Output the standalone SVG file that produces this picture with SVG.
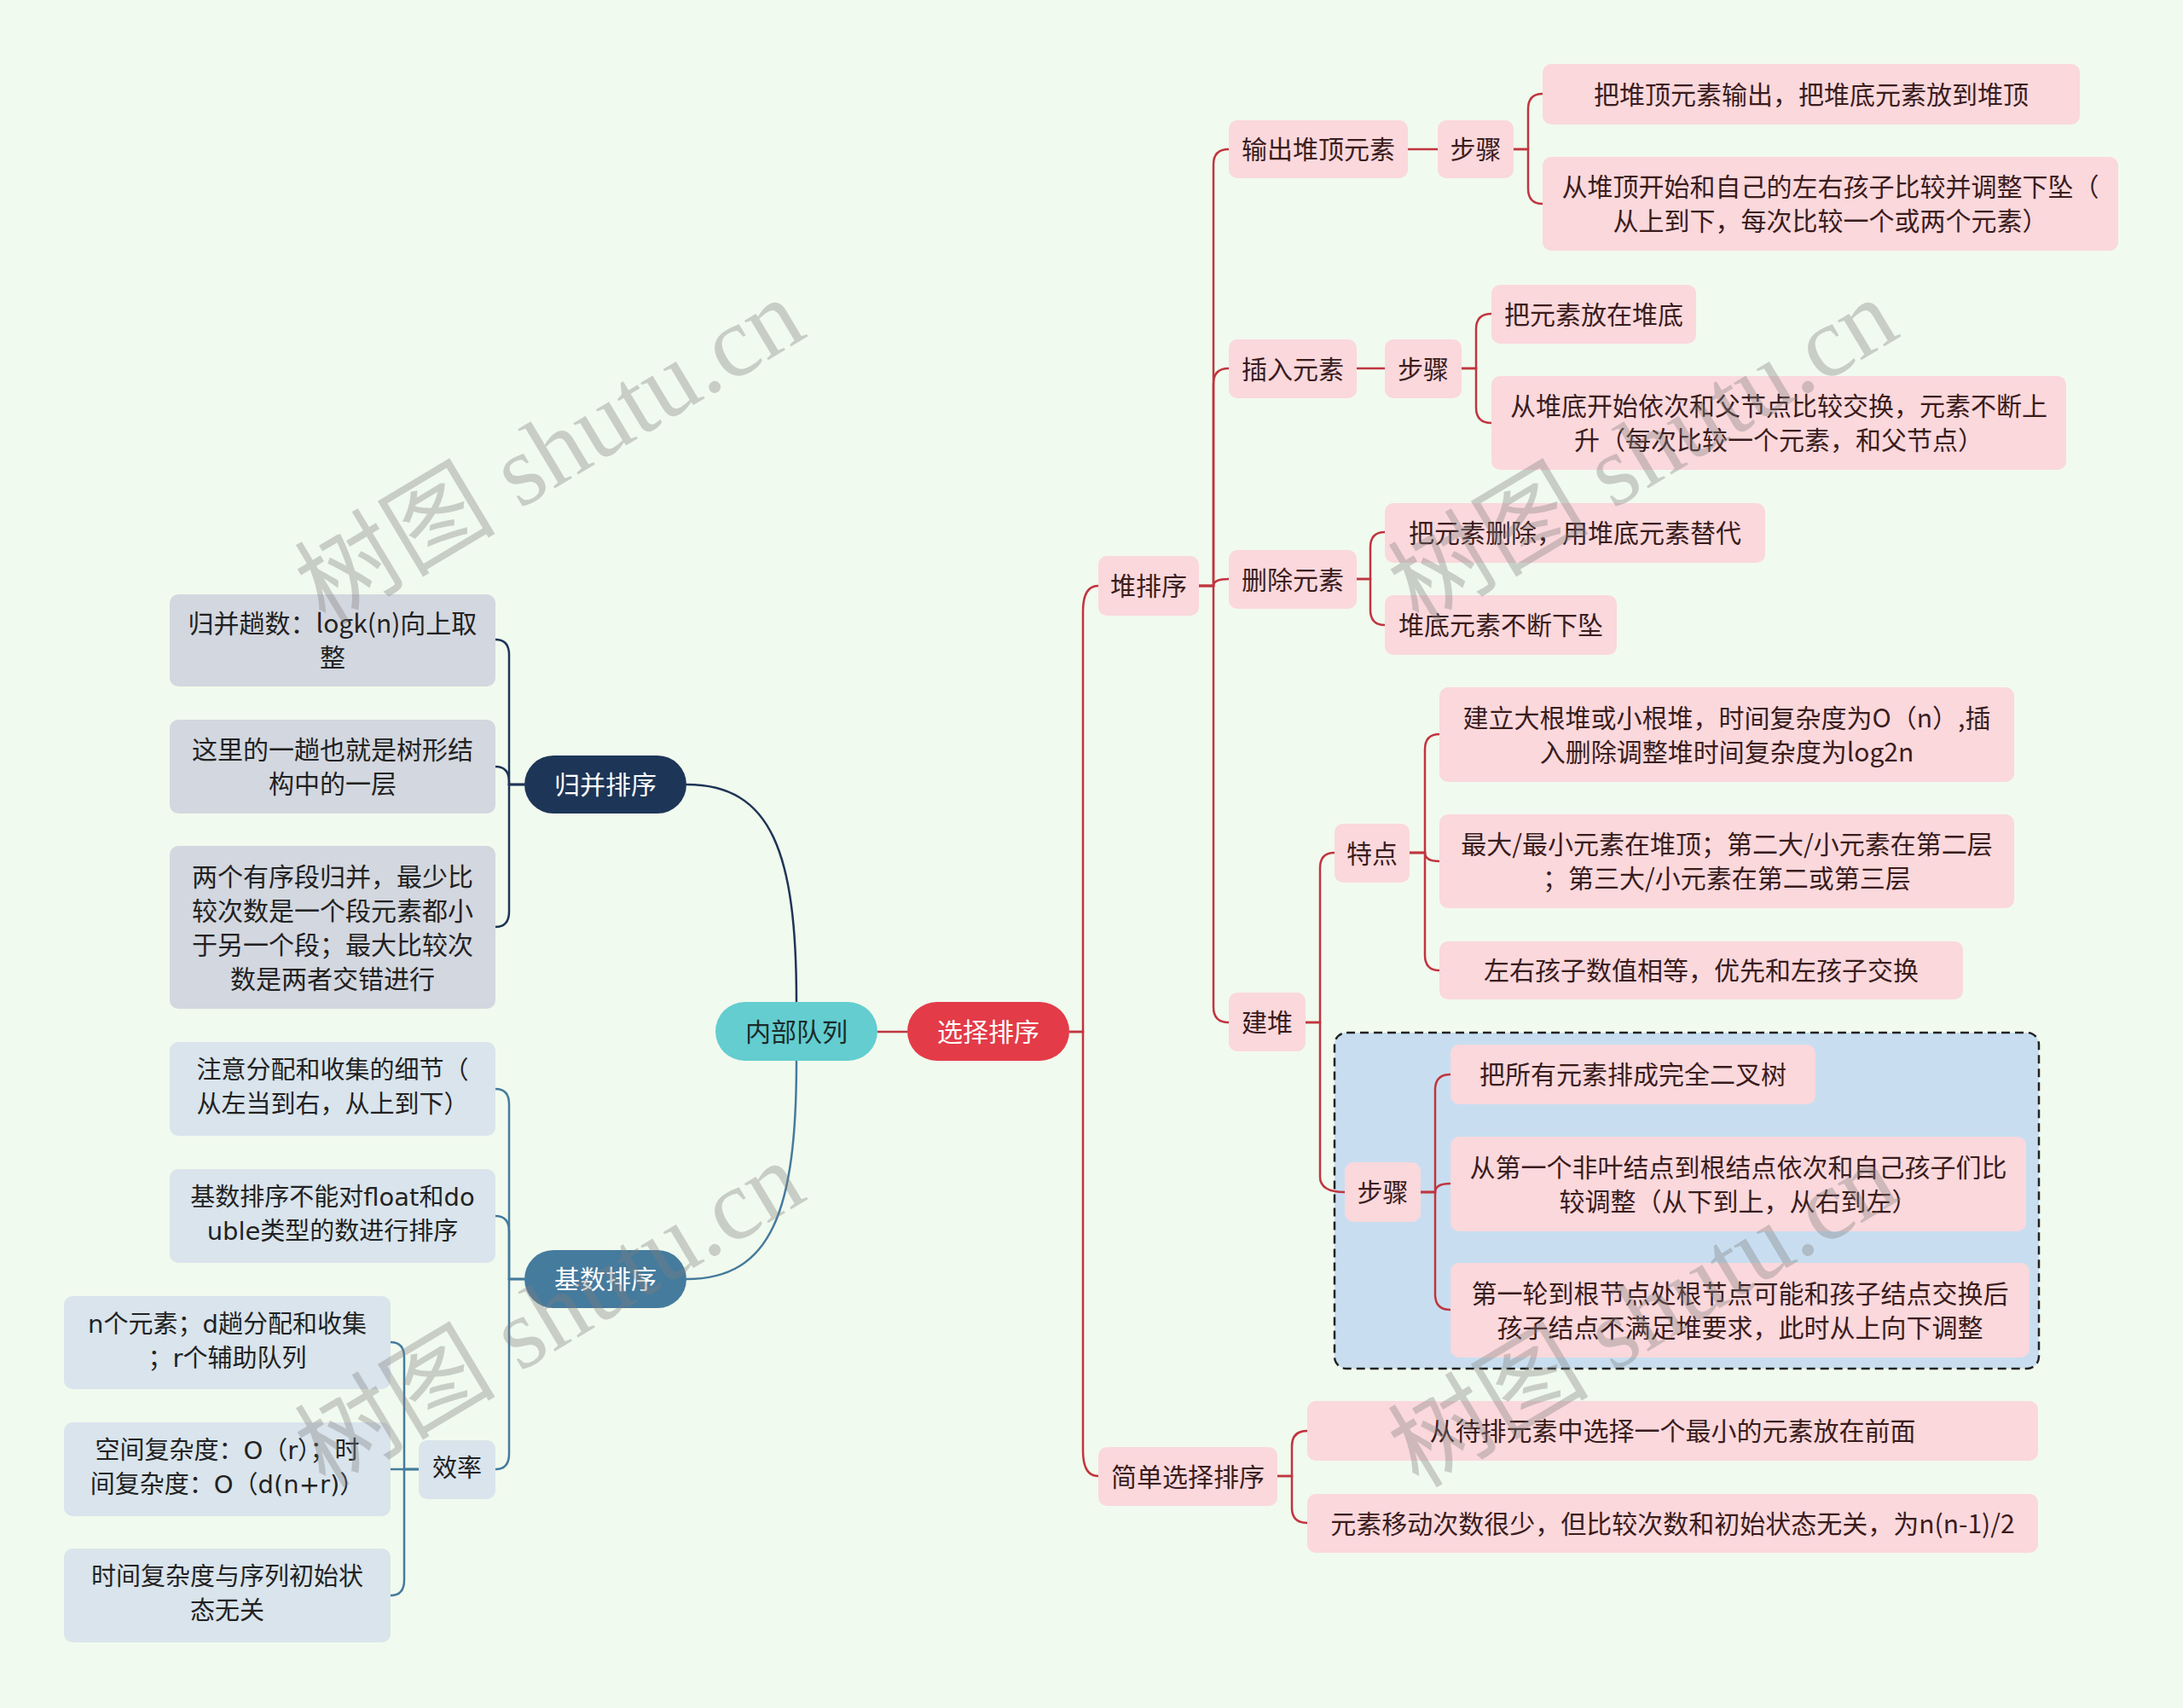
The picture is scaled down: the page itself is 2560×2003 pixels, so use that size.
<svg xmlns="http://www.w3.org/2000/svg" width="2560" height="2003" viewBox="0 0 2560 2003">
<style>
text{font-family:"Noto Sans CJK SC","Liberation Sans",sans-serif;font-size:30px;text-anchor:middle;dominant-baseline:central}
.pk rect{fill:#fad8dc}
.pk text{fill:#3a1c1c}
.gy rect{fill:#d3d7df}
.gy text{fill:#222}
.bl rect{fill:#d9e4ec}
.bl text{fill:#222;font-family:"DejaVu Sans","Noto Sans CJK SC",sans-serif;font-size:29px}
.wt text{fill:#fff}
.cr{fill:none;stroke:#c0353f;stroke-width:2.5}
.cn{fill:none;stroke:#1d3557;stroke-width:2.5}
.cb{fill:none;stroke:#457b9d;stroke-width:2.5}
.wm{font-family:"Liberation Serif","Noto Sans CJK SC",serif;font-size:118px;fill:#808080;fill-opacity:.36}
</style>
<rect width="2560" height="2003" fill="#f1faee"/>
<rect x="1565" y="1211" width="826" height="394" rx="14" fill="#c8def0" stroke="#222" stroke-width="2.5" stroke-dasharray="10 6"/>
<g id="connectors">
<path class="cr" d="M1029 1210H1064"/>
<path class="cr" d="M1254 1210H1270V717Q1270 687 1288 687"/>
<path class="cr" d="M1254 1210H1270V1701Q1270 1731 1288 1731"/>
<path class="cr" d="M1406 687H1423V193Q1423 175 1441 175"/>
<path class="cr" d="M1406 687H1423V450Q1423 432 1441 432"/>
<path class="cr" d="M1406 687H1423Q1423 679 1441 679"/>
<path class="cr" d="M1406 687H1423V1181Q1423 1199 1441 1199"/>
<path class="cr" d="M1651 175H1686"/>
<path class="cr" d="M1775 175H1792V128Q1792 110 1809 110"/>
<path class="cr" d="M1775 175H1792V221Q1792 239 1809 239"/>
<path class="cr" d="M1591 432H1624"/>
<path class="cr" d="M1714 432H1731V386Q1731 368 1749 368"/>
<path class="cr" d="M1714 432H1731V478Q1731 496 1749 496"/>
<path class="cr" d="M1591 679H1607V642Q1607 624 1624 624"/>
<path class="cr" d="M1591 679H1607V715Q1607 733 1624 733"/>
<path class="cr" d="M1531 1199H1548V1018Q1548 1000 1565 1000"/>
<path class="cr" d="M1531 1199H1548V1380Q1548 1398 1577 1398"/>
<path class="cr" d="M1653 1000H1671V879Q1671 861 1688 861"/>
<path class="cr" d="M1653 1000H1671Q1671 1010 1688 1010"/>
<path class="cr" d="M1653 1000H1671V1120Q1671 1138 1688 1138"/>
<path class="cr" d="M1666 1398H1683V1278Q1683 1260 1701 1260"/>
<path class="cr" d="M1666 1398H1683Q1683 1388 1701 1388"/>
<path class="cr" d="M1666 1398H1683V1518Q1683 1536 1701 1536"/>
<path class="cr" d="M1498 1731H1515V1696Q1515 1678 1533 1678"/>
<path class="cr" d="M1498 1731H1515V1768Q1515 1786 1533 1786"/>
<path class="cn" d="M934 1175C934 1000 905 920 805 920"/>
<path class="cb" d="M934 1244C934 1420 905 1500 805 1500"/>
<path class="cn" d="M615 920H597V768Q597 750 581 750"/>
<path class="cn" d="M615 920H597V917Q597 899 581 899"/>
<path class="cn" d="M615 920H597V1069Q597 1087 581 1087"/>
<path class="cb" d="M615 1500H597V1295Q597 1277 581 1277"/>
<path class="cb" d="M615 1500H597V1444Q597 1426 581 1426"/>
<path class="cb" d="M615 1500H597V1705Q597 1723 581 1723"/>
<path class="cb" d="M491 1723H474V1592Q474 1574 458 1574"/>
<path class="cb" d="M491 1723H458"/>
<path class="cb" d="M491 1723H474V1853Q474 1871 458 1871"/>
</g>
<g id="n-select" class="wt"><rect x="1064" y="1175" width="190" height="69" rx="34.5" fill="#e33b48"/><text x="1159" y="1208">选择排序</text></g>
<g id="n-inner"><rect x="839" y="1175" width="190" height="69" rx="34.5" fill="#63cdd0"/><text x="934" y="1208" fill="#1a2b2b">内部队列</text></g>
<g id="n-merge" class="wt"><rect x="615" y="886" width="190" height="68" rx="34" fill="#1d3557"/><text x="710" y="918">归并排序</text></g>
<g id="n-radix" class="wt"><rect x="615" y="1466" width="190" height="68" rx="34" fill="#457b9d"/><text x="710" y="1498">基数排序</text></g>

<g id="n-heap" class="pk"><rect x="1288" y="652" width="118" height="70" rx="10"/><text x="1347" y="685">堆排序</text></g>
<g id="n-out" class="pk"><rect x="1441" y="141" width="210" height="68" rx="10"/><text x="1546" y="173">输出堆顶元素</text></g>
<g id="n-out-step" class="pk"><rect x="1686" y="141" width="89" height="68" rx="10"/><text x="1730.5" y="173">步骤</text></g>
<g id="n-out-1" class="pk"><rect x="1809" y="75" width="630" height="71" rx="10"/><text x="2124" y="108.5">把堆顶元素输出，把堆底元素放到堆顶</text></g>
<g id="n-out-2" class="pk"><rect x="1809" y="184" width="675" height="110" rx="10"/><text x="2146.5" y="217">从堆顶开始和自己的左右孩子比较并调整下坠（</text><text x="2146.5" y="257">从上到下，每次比较一个或两个元素）</text></g>
<g id="n-ins" class="pk"><rect x="1441" y="398" width="150" height="69" rx="10"/><text x="1516" y="430.5">插入元素</text></g>
<g id="n-ins-step" class="pk"><rect x="1624" y="398" width="90" height="69" rx="10"/><text x="1669" y="430.5">步骤</text></g>
<g id="n-ins-1" class="pk"><rect x="1749" y="334" width="240" height="69" rx="10"/><text x="1869" y="366.5">把元素放在堆底</text></g>
<g id="n-ins-2" class="pk"><rect x="1749" y="441" width="674" height="110" rx="10"/><text x="2086" y="474">从堆底开始依次和父节点比较交换，元素不断上</text><text x="2086" y="514">升（每次比较一个元素，和父节点）</text></g>
<g id="n-del" class="pk"><rect x="1441" y="645" width="150" height="69" rx="10"/><text x="1516" y="677.5">删除元素</text></g>
<g id="n-del-1" class="pk"><rect x="1624" y="590" width="446" height="70" rx="10"/><text x="1847" y="623">把元素删除，用堆底元素替代</text></g>
<g id="n-del-2" class="pk"><rect x="1624" y="698" width="272" height="70" rx="10"/><text x="1760" y="731">堆底元素不断下坠</text></g>
<g id="n-build" class="pk"><rect x="1441" y="1164" width="90" height="69" rx="10"/><text x="1486" y="1196.5">建堆</text></g>
<g id="n-feat" class="pk"><rect x="1565" y="966" width="88" height="69" rx="10"/><text x="1609" y="998.5">特点</text></g>
<g id="n-feat-1" class="pk"><rect x="1688" y="806" width="674" height="111" rx="10"/><text x="2025" y="839.5">建立大根堆或小根堆，时间复杂度为O（n）,插</text><text x="2025" y="879.5">入删除调整堆时间复杂度为log2n</text></g>
<g id="n-feat-2" class="pk"><rect x="1688" y="955" width="674" height="110" rx="10"/><text x="2025" y="988">最大/最小元素在堆顶；第二大/小元素在第二层</text><text x="2025" y="1028">；第三大/小元素在第二或第三层</text></g>
<g id="n-feat-3" class="pk"><rect x="1688" y="1104" width="614" height="68" rx="10"/><text x="1995" y="1136">左右孩子数值相等，优先和左孩子交换</text></g>
<g id="n-build-step" class="pk"><rect x="1577" y="1363" width="89" height="70" rx="10"/><text x="1621.5" y="1396">步骤</text></g>
<g id="n-build-1" class="pk"><rect x="1701" y="1225" width="428" height="70" rx="10"/><text x="1915" y="1258">把所有元素排成完全二叉树</text></g>
<g id="n-build-2" class="pk"><rect x="1701" y="1333" width="675" height="111" rx="10"/><text x="2038.5" y="1366.5">从第一个非叶结点到根结点依次和自己孩子们比</text><text x="2038.5" y="1406.5">较调整（从下到上，从右到左）</text></g>
<g id="n-build-3" class="pk"><rect x="1701" y="1481" width="679" height="111" rx="10"/><text x="2040.5" y="1514.5">第一轮到根节点处根节点可能和孩子结点交换后</text><text x="2040.5" y="1554.5">孩子结点不满足堆要求，此时从上向下调整</text></g>
<g id="n-simple" class="pk"><rect x="1288" y="1697" width="210" height="69" rx="10"/><text x="1393" y="1729.5">简单选择排序</text></g>
<g id="n-simple-1" class="pk"><rect x="1533" y="1643" width="857" height="70" rx="10"/><text x="1961.5" y="1676">从待排元素中选择一个最小的元素放在前面</text></g>
<g id="n-simple-2" class="pk"><rect x="1533" y="1752" width="857" height="69" rx="10"/><text x="1961.5" y="1784.5">元素移动次数很少，但比较次数和初始状态无关，为n(n-1)/2</text></g>

<g id="n-m1" class="gy"><rect x="199" y="697" width="382" height="108" rx="10"/><text x="390" y="729">归并趟数：logk(n)向上取</text><text x="390" y="769">整</text></g>
<g id="n-m2" class="gy"><rect x="199" y="844" width="382" height="110" rx="10"/><text x="390" y="877">这里的一趟也就是树形结</text><text x="390" y="917">构中的一层</text></g>
<g id="n-m3" class="gy"><rect x="199" y="992" width="382" height="191" rx="10"/><text x="390" y="1025.5">两个有序段归并，最少比</text><text x="390" y="1065.5">较次数是一个段元素都小</text><text x="390" y="1105.5">于另一个段；最大比较次</text><text x="390" y="1145.5">数是两者交错进行</text></g>

<g id="n-r1" class="bl"><rect x="199" y="1222" width="382" height="110" rx="10"/><text x="390" y="1255">注意分配和收集的细节（</text><text x="390" y="1295">从左当到右，从上到下）</text></g>
<g id="n-r2" class="bl"><rect x="199" y="1371" width="382" height="110" rx="10"/><text x="390" y="1404">基数排序不能对float和do</text><text x="390" y="1444">uble类型的数进行排序</text></g>
<g id="n-eff" class="bl"><rect x="491" y="1689" width="90" height="69" rx="10"/><text x="536" y="1721.5">效率</text></g>
<g id="n-e1" class="bl"><rect x="75" y="1520" width="383" height="109" rx="10"/><text x="266.5" y="1552.5">n个元素；d趟分配和收集</text><text x="266.5" y="1592.5">；r个辅助队列</text></g>
<g id="n-e2" class="bl"><rect x="75" y="1668" width="383" height="110" rx="10"/><text x="266.5" y="1701">空间复杂度：O（r）；时</text><text x="266.5" y="1741">间复杂度：O（d(n+r)）</text></g>
<g id="n-e3" class="bl"><rect x="75" y="1816" width="383" height="110" rx="10"/><text x="266.5" y="1849">时间复杂度与序列初始状</text><text x="266.5" y="1889">态无关</text></g>

<g id="watermarks">
<text class="wm" x="645" y="530" transform="rotate(-31 645 530)">树图 shutu.cn</text>
<text class="wm" x="1927" y="530" transform="rotate(-31 1927 530)">树图 shutu.cn</text>
<text class="wm" x="645" y="1542" transform="rotate(-31 645 1542)">树图 shutu.cn</text>
<text class="wm" x="1927" y="1542" transform="rotate(-31 1927 1542)">树图 shutu.cn</text>
</g>
</svg>
